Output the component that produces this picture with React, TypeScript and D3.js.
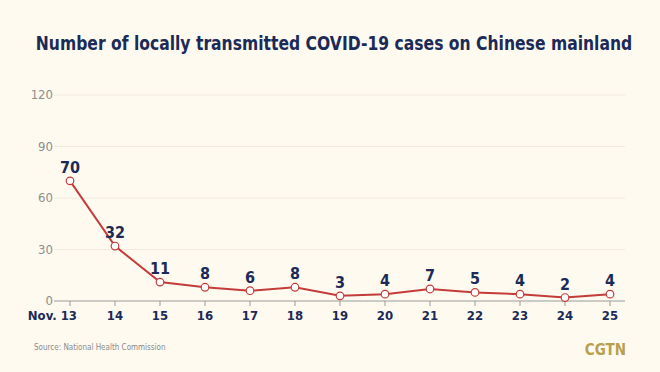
import { useEffect, useRef } from "react";
import * as d3 from "d3";

const days = ["Nov. 13", "14", "15", "16", "17", "18", "19", "20", "21", "22", "23", "24", "25"];
const cases = [70, 32, 11, 8, 6, 8, 3, 4, 7, 5, 4, 2, 4];
const yTicks = [0, 30, 60, 90, 120];

const W = 660;
const H = 372;
const navy = "#1b2a57";
const red = "#c43c3a";
const cond = "'DejaVu Sans Condensed', 'Liberation Sans Narrow', Roboto, sans-serif";

export default function App() {
  const svgRef = useRef<SVGSVGElement>(null);

  useEffect(() => {
    if (!svgRef.current) return;
    const svg = d3.select(svgRef.current);
    svg.selectAll("*").remove();

    svg.append("rect").attr("width", W).attr("height", H).attr("fill", "#fefaef");

    const x = d3.scalePoint().domain(days).range([70, 610]);
    const y = d3.scaleLinear().domain([0, 120]).range([301, 95]);

    // title: fit to the reference width, then stretch up to its cap height
    const titleG = svg.append("g");
    const title = titleG.append("text")
      .attr("x", 334)
      .attr("y", 0)
      .attr("text-anchor", "middle")
      .attr("fill", navy)
      .attr("font-size", 20)
      .attr("font-weight", 700)
      .attr("font-family", cond)
      .text("Number of locally transmitted COVID-19 cases on Chinese mainland");
    const tw = (title.node() as SVGTextElement).getComputedTextLength();
    const fs = tw > 597 ? (20 * 597) / tw : 20;
    title.attr("font-size", fs);
    titleG.attr("transform", `translate(0,49.5) scale(1,${Math.max(1, 19 / fs)})`);

    // grid
    svg.selectAll(".grid")
      .data(yTicks.filter((d) => d > 0))
      .join("line")
      .attr("x1", 54)
      .attr("x2", 625)
      .attr("y1", (d) => y(d))
      .attr("y2", (d) => y(d))
      .attr("stroke", "#efeadb")
      .attr("stroke-width", 1);

    svg.selectAll(".ytick")
      .data(yTicks)
      .join("text")
      .attr("x", 53)
      .attr("y", (d) => y(d) + 4)
      .attr("text-anchor", "end")
      .attr("fill", "#8d8d8d")
      .attr("font-size", 13)
      .attr("font-family", cond)
      .text((d) => d);

    // x axis
    svg.append("line")
      .attr("x1", 54).attr("x2", 625)
      .attr("y1", y(0)).attr("y2", y(0))
      .attr("stroke", "#9a9a9a").attr("stroke-width", 1);

    svg.selectAll(".xtick")
      .data(days)
      .join("line")
      .attr("x1", (d) => x(d)!)
      .attr("x2", (d) => x(d)!)
      .attr("y1", y(0))
      .attr("y2", y(0) + 5)
      .attr("stroke", "#9a9a9a");

    // first label hangs left so the day number sits under its tick
    svg.selectAll(".xlabel")
      .data(days)
      .join("text")
      .attr("x", (d, i) => x(d)! + (i === 0 ? 7 : 0))
      .attr("y", 320)
      .attr("text-anchor", (d, i) => (i === 0 ? "end" : "middle"))
      .attr("fill", navy)
      .attr("font-size", 13)
      .attr("font-weight", 700)
      .attr("font-family", cond)
      .text((d) => d);

    const pts = days.map((d, i) => ({ d, v: cases[i] }));

    const line = d3.line<{ d: string; v: number }>()
      .x((p) => x(p.d)!)
      .y((p) => y(p.v));

    svg.append("path")
      .datum(pts)
      .attr("d", line)
      .attr("fill", "none")
      .attr("stroke", red)
      .attr("stroke-width", 2);

    svg.selectAll(".pt")
      .data(pts)
      .join("circle")
      .attr("cx", (p) => x(p.d)!)
      .attr("cy", (p) => y(p.v))
      .attr("r", 3.8)
      .attr("fill", "#ffffff")
      .attr("stroke", red)
      .attr("stroke-width", 1.2);

    svg.selectAll(".val")
      .data(pts)
      .join("text")
      .attr("x", (p) => x(p.d)!)
      .attr("y", (p) => y(p.v) - 8)
      .attr("text-anchor", "middle")
      .attr("fill", navy)
      .attr("font-size", 16)
      .attr("font-weight", 700)
      .attr("font-family", cond)
      .text((p) => p.v);

    // footer
    svg.append("text")
      .attr("x", 34)
      .attr("y", 350)
      .attr("fill", "#8a8a8a")
      .attr("font-size", 8)
      .attr("font-family", cond)
      .text("Source: National Health Commission");

    svg.append("text")
      .attr("x", 626)
      .attr("y", 355)
      .attr("text-anchor", "end")
      .attr("fill", "#b9a04f")
      .attr("font-size", 15)
      .attr("font-weight", 700)
      .attr("font-family", cond)
      .text("CGTN");
  }, []);

  return (
    <div style={{ position: "fixed", left: 0, top: 0, width: W, height: H }}>
      <svg ref={svgRef} width={W} height={H} style={{ display: "block" }} />
    </div>
  );
}
